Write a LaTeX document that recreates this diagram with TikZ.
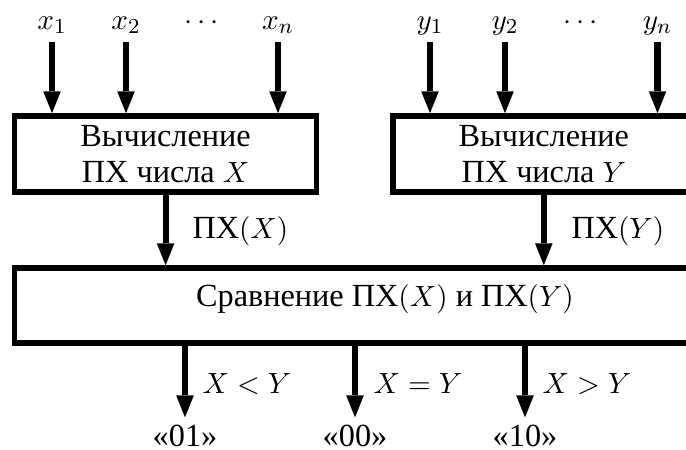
\documentclass[tikz,border=0pt]{standalone}
\usepackage[no-math]{fontspec}
\setmainfont{Liberation Serif}[Scale=1.10]
\usetikzlibrary{arrows.meta}
\begin{document}
\begin{tikzpicture}[x=0.375pt, y=-0.375pt,
  every node/.style={font=\fontsize{11}{13.5}\selectfont},
  block/.style={draw, line width=2.1pt, minimum width=113.3pt,
    minimum height=28.5pt, align=center, inner sep=0pt},
  bigblock/.style={draw, line width=2.1pt, minimum width=277.9pt,
    minimum height=28.1pt, inner sep=0pt, text height=4pt, text depth=3.6pt},
  flow/.style={line width=2.3pt,
    -{Triangle[length=8.2pt,width=6.6pt,line width=0pt]}},
  inlabel/.style={anchor=base},
  outlabel/.style={anchor=base, inner sep=2.5pt},
  sidelabel/.style={anchor=base west, inner sep=0pt},
]
\useasboundingbox (0,0) rectangle (686,450);
\clip (0,0) rectangle (686,450);

% computing blocks
\node[block] (lbox) at (165.6,154) {Вычисление\\ПХ числа $X$};
\node[block] (rbox) at (543.8,154) {Вычисление\\ПХ числа $Y$};
\node[bigblock] (bbox) at (385,305.5) {Сравнение ПХ$(X)$ и ПХ$(Y)$};

% inputs of X
\node[inlabel] (lx1) at (52,29) {$x_1$};
\node[inlabel] (lx2) at (126,29) {$x_2$};
\node[inlabel] (lxd) at (202,29) {$\cdots$};
\node[inlabel] (lxn) at (278,29) {$x_n$};
\coordinate (ax1) at (52,42);
\coordinate (ax2) at (126,42);
\coordinate (axn) at (278,42);
\draw[flow] (ax1) -- (ax1 |- lbox.north);
\draw[flow] (ax2) -- (ax2 |- lbox.north);
\draw[flow] (axn) -- (axn |- lbox.north);

% inputs of Y
\node[inlabel] (ly1) at (430,29) {$y_1$};
\node[inlabel] (ly2) at (505,29) {$y_2$};
\node[inlabel] (lyd) at (581,29) {$\cdots$};
\node[inlabel] (lyn) at (657.5,29) {$y_n$};
\coordinate (ay1) at (430,42);
\coordinate (ay2) at (505,42);
\coordinate (ayn) at (657.5,42);
\draw[flow] (ay1) -- (ay1 |- rbox.north);
\draw[flow] (ay2) -- (ay2 |- rbox.north);
\draw[flow] (ayn) -- (ayn |- rbox.north);

% characteristics passed to the comparator
\draw[flow] (lbox.south) -- (lbox.south |- bbox.north);
\draw[flow] (rbox.south) -- (rbox.south |- bbox.north);
\node[sidelabel] (px) at (192,238) {ПХ$(X)$};
\node[sidelabel] (py) at (571,238) {ПХ$(Y)$};

% outputs
\node[outlabel] (o1) at (185,446) {«01»};
\node[outlabel] (o2) at (355,446) {«00»};
\node[outlabel] (o3) at (525,446) {«10»};
\draw[flow] (bbox.south -| o1) -- (o1.north);
\draw[flow] (bbox.south -| o2) -- (o2.north);
\draw[flow] (bbox.south -| o3) -- (o3.north);
\node[sidelabel] (c1) at (202,393) {$X<Y$};
\node[sidelabel] (c2) at (373,393) {$X=Y$};
\node[sidelabel] (c3) at (542,393) {$X>Y$};
\end{tikzpicture}
\end{document}
